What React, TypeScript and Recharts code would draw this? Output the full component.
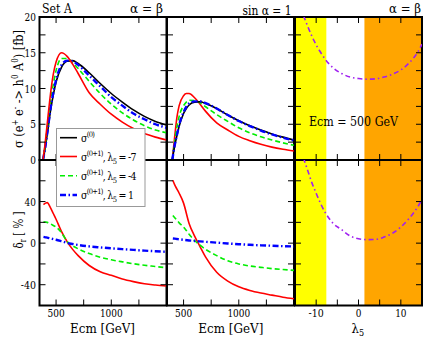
import React from "react";
import { LineChart, Line, XAxis, YAxis, ReferenceArea } from "recharts";

const FONT = '"DejaVu Serif Condensed", "DejaVu Serif", serif';
const TICK_LEN = 6;

// ---- Set A, alpha = beta : cross section [fb] vs Ecm ----
const ecmSigA = [382, 400, 425, 450, 475, 500, 550, 600, 650, 700, 800, 900, 1000, 1100, 1200, 1300, 1400, 1500];
const sigA_tree = [0, 1.5, 4.1, 6.9, 9.1, 10.9, 13.0, 13.8, 13.9, 13.5, 12.2, 10.7, 9.3, 8.1, 7.0, 6.1, 5.4, 4.9];
const sigA_m7 = [0, 2.2, 5.8, 9.3, 12.0, 13.7, 15.0, 14.5, 13.4, 12.1, 9.4, 7.8, 6.4, 5.3, 4.4, 3.7, 3.2, 2.8];
const sigA_m4 = [0, 1.9, 5.0, 8.2, 10.6, 12.5, 14.2, 14.2, 13.6, 12.8, 11.0, 9.3, 7.8, 6.6, 5.6, 4.8, 4.2, 3.8];
const sigA_p1 = [0, 1.6, 4.3, 7.2, 9.4, 11.2, 13.3, 13.9, 13.8, 13.3, 11.8, 10.3, 8.8, 7.6, 6.5, 5.7, 5.0, 4.5];

// ---- Set A, alpha = beta : delta_r [%] vs Ecm ----
const ecmDelA = [386, 405, 420, 450, 475, 500, 550, 600, 650, 700, 800, 900, 1000, 1100, 1200, 1300, 1400, 1500];
const delA_m7 = [37, 38.5, 39, 34, 28.5, 23, 11, 1.5, -6, -12, -21.5, -27.5, -31, -34.5, -37, -39, -40.3, -41.3];
const delA_m4 = [20.6, 20.3, 20, 18.5, 17, 15.5, 10, 1.5, -2.5, -5.5, -10, -13.5, -16, -18, -19.8, -21.3, -22.5, -23.7];
const delA_p1 = [6, 5.6, 5.3, 4.5, 3.9, 3.3, 1.8, 0.2, -0.8, -1.7, -3.1, -4.1, -5, -5.8, -6.5, -7.2, -7.8, -8.3];

// ---- sin alpha = 1 : cross section [fb] vs Ecm ----
const ecmSigB = [398, 420, 440, 460, 500, 525, 550, 600, 650, 700, 800, 900, 1000, 1100, 1200, 1300, 1400, 1500];
const sigB_tree = [0, 2.0, 3.4, 4.7, 6.5, 7.2, 7.7, 8.1, 8.15, 7.9, 7.2, 6.3, 5.5, 4.8, 4.2, 3.65, 3.2, 2.8];
const sigB_m7 = [0, 3.3, 6.0, 7.6, 9.0, 9.3, 9.3, 8.7, 7.8, 6.8, 5.2, 4.2, 3.3, 2.7, 2.2, 1.8, 1.5, 1.26];
const sigB_m4 = [0, 2.6, 4.6, 6.1, 7.6, 8.1, 8.35, 8.3, 8.0, 7.45, 6.35, 5.4, 4.5, 3.8, 3.25, 2.8, 2.4, 2.05];
const sigB_p1 = [0, 2.1, 3.5, 4.9, 6.7, 7.45, 7.9, 8.2, 8.2, 7.95, 7.2, 6.3, 5.45, 4.75, 4.12, 3.57, 3.12, 2.72];

// ---- sin alpha = 1 : delta_r [%] vs Ecm ----
const ecmDelB = [403, 420, 440, 460, 500, 550, 600, 650, 700, 800, 900, 1000, 1100, 1200, 1300, 1400, 1500];
const delB_m7 = [60.5, 56, 52, 48, 38.5, 19, 6.8, -3.5, -13.5, -28, -36.5, -42, -45.5, -48, -50, -52, -53.5];
const delB_m4 = [26.6, 24.5, 22, 19.5, 15.5, 8.5, 2.5, -2, -6, -12, -17, -20, -22, -23.3, -24.5, -25.4, -26.2];
const delB_p1 = [4.5, 4.3, 4.0, 3.7, 3.2, 2.6, 2.1, 1.7, 1.3, 0.5, -0.3, -1, -1.6, -2.1, -2.5, -2.9, -3.2];

// ---- Ecm = 500 GeV, scan in lambda5 ----
const lam5 = [-13, -12, -11, -10, -9, -8, -6, -4, -2, 0, 2, 4, 6, 8, 10, 12, 14, 15];
const sigLam = [20.2, 18.7, 17.3, 16.1, 15.1, 14.2, 12.9, 12.1, 11.6, 11.4, 11.3, 11.35, 11.6, 12.0, 12.6, 13.6, 15.1, 16.2];
const delLam = [82, 70, 58, 48, 38.5, 30.5, 19, 13, 7, 4.2, 3.4, 3.6, 5.8, 9.5, 15.5, 24, 35, 42];
const yellowBand = [-15, -7.6];
const orangeBand = [1.4, 15];

// axes
const ecmDomain: [number, number] = [350, 1500];
const ecmTicks = [500, 750, 1000, 1250];
const ecmLabels = [500, 1000];
const lamDomain: [number, number] = [-15, 15];
const lamTicks = [-10, -5, 0, 5, 10];
const lamLabels = [-10, 0, 10];
const sigDomain: [number, number] = [0, 20];
const sigTicks = [0, 2.5, 5, 7.5, 10, 12.5, 15, 17.5, 20];
const sigLabels = [0, 5, 10, 15, 20];
const delDomain: [number, number] = [-60, 80];
const delTicks = [-40, -20, 0, 20, 40, 60];
const delLabels = [-40, 0, 40];

const sigTabA = ecmSigA.map((e, i) => ({ e, s0: sigA_tree[i], m7: sigA_m7[i], m4: sigA_m4[i], p1: sigA_p1[i] }));
const delTabA = ecmDelA.map((e, i) => ({ e, m7: delA_m7[i], m4: delA_m4[i], p1: delA_p1[i] }));
const sigTabB = ecmSigB.map((e, i) => ({ e, s0: sigB_tree[i], m7: sigB_m7[i], m4: sigB_m4[i], p1: sigB_p1[i] }));
const delTabB = ecmDelB.map((e, i) => ({ e, m7: delB_m7[i], m4: delB_m4[i], p1: delB_p1[i] }));
const lamTab = lam5.map((l, i) => ({ l, sig: sigLam[i], del: delLam[i] }));

const styles = {
  s0: { stroke: "#000000", strokeWidth: 1.6 },
  m7: { stroke: "#ff0000", strokeWidth: 1.6 },
  m4: { stroke: "#00ee00", strokeWidth: 1.6, strokeDasharray: "5 3" },
  p1: { stroke: "#0000ff", strokeWidth: 2.4, strokeDasharray: "6 2.5 1.5 2.5" },
  lam: { stroke: "#a020f0", strokeWidth: 1.6, strokeDasharray: "5 3 1.5 3" },
};

const txt = { fontFamily: FONT };

// Times-like widths for the tick labels (the installed serif runs wider)
const labelWidth = (v: number) => {
  const s = String(v);
  let w = 0;
  for (const ch of s) w += ch === "-" ? 3.8 : 5.7;
  return w;
};

// inward ticks on both edges, labels outside
function xTick(plotH: number, labels: number[] | null) {
  return (p: any) => {
    const { x, y, payload } = p;
    return (
      <g>
        <line x1={x} x2={x} y1={y} y2={y - TICK_LEN} stroke="#000" />
        <line x1={x} x2={x} y1={y - plotH} y2={y - plotH + TICK_LEN} stroke="#000" />
        {labels && labels.includes(payload.value) && (
          <text x={x} y={y + 11} textAnchor="middle" fontSize={10.5} style={txt} fill="#000"
            textLength={labelWidth(payload.value)} lengthAdjust="spacingAndGlyphs">
            {payload.value}
          </text>
        )}
      </g>
    );
  };
}

function yTick(plotW: number, labels: number[] | null) {
  return (p: any) => {
    const { x, y, payload } = p;
    return (
      <g>
        <line x1={x} x2={x + TICK_LEN} y1={y} y2={y} stroke="#000" />
        <line x1={x + plotW} x2={x + plotW - TICK_LEN} y1={y} y2={y} stroke="#000" />
        {labels && labels.includes(payload.value) && (
          <text x={x - 3.5} y={y + 4} textAnchor="end" fontSize={11} style={txt} fill="#000"
            textLength={labelWidth(payload.value)} lengthAdjust="spacingAndGlyphs">
            {payload.value}
          </text>
        )}
      </g>
    );
  };
}

const COL_X = [39.5, 167, 294.5];
const PLOT_W = 127;
const ROW_Y = [17, 160];
const ROW_H = [143, 145.5];

function Panel(props: {
  col: number;
  row: number;
  data: any[];
  xKey: string;
  xDomain: [number, number];
  yDomain: [number, number];
  xTicks: number[];
  yTicks: number[];
  xLabels: number[] | null;
  yLabels: number[] | null;
  children: React.ReactNode;
}) {
  const { col, row, data, xKey, xDomain, yDomain, xTicks, yTicks, xLabels, yLabels } = props;
  const x = COL_X[col];
  const y = ROW_Y[row];
  const h = ROW_H[row];
  // axes are 1px thick so that they render; margins leave room for labels
  const ml = col === 0 ? 39.5 : 4;
  const mt = 10;
  const mr = 4;
  const mb = row === 1 ? 22 : 10;
  return (
    <div style={{ position: "absolute", left: x - ml, top: y - mt }}>
      <LineChart
        width={PLOT_W + ml + mr}
        height={h + mt + mb}
        data={data}
        margin={{ top: mt, right: mr, bottom: mb - 1, left: ml - 1 }}
      >
        <XAxis
          type="number"
          dataKey={xKey}
          domain={xDomain}
          ticks={xTicks}
          interval={0}
          allowDataOverflow
          axisLine={false}
          tickLine={false}
          tickSize={0}
          tickMargin={0}
          height={1}
          tick={xTick(h, xLabels)}
        />
        <YAxis
          type="number"
          domain={yDomain}
          ticks={yTicks}
          interval={0}
          allowDataOverflow
          axisLine={false}
          tickLine={false}
          tickSize={0}
          tickMargin={0}
          width={1}
          tick={yTick(PLOT_W, yLabels)}
        />
        {props.children}
        <ReferenceArea
          x1={xDomain[0]}
          x2={xDomain[1]}
          y1={yDomain[0]}
          y2={yDomain[1]}
          fill="none"
          stroke="#000"
          strokeWidth={2}
          ifOverflow="visible"
        />
      </LineChart>
    </div>
  );
}

function ecmLines(keys: string[]) {
  return keys.map((k) => (
    <Line key={k} type="monotone" dataKey={k} dot={false} isAnimationActive={false} {...(styles as any)[k]} />
  ));
}

function Bands() {
  return [
    <ReferenceArea key="y" x1={yellowBand[0]} x2={yellowBand[1]} fill="#ffff00" fillOpacity={1} stroke="none" />,
    <ReferenceArea key="o" x1={orangeBand[0]} x2={orangeBand[1]} fill="#ffa500" fillOpacity={1} stroke="none" />,
  ];
}

function Overlay() {
  const t = { style: txt, fill: "#000", lengthAdjust: "spacingAndGlyphs" };
  const lg = { style: { ...txt, letterSpacing: -0.7 }, fill: "#000" };
  const rows = [
    { y: 137.7, st: styles.s0, sup: "(0)", rest: "" },
    { y: 156.5, st: styles.m7, sup: "(0+1)", rest: "-7" },
    { y: 175.7, st: styles.m4, sup: "(0+1)", rest: "-4" },
    { y: 195, st: styles.p1, sup: "(0+1)", rest: "1" },
  ];
  return (
    <svg width={423} height={338} style={{ position: "absolute", left: 0, top: 0, pointerEvents: "none" }}>
      <text x={42} y={12.5} fontSize={13.5} textLength={30} {...t}>Set A</text>
      <text x={130} y={12.5} fontSize={13.5} textLength={33} {...t}>α = β</text>
      <text x={242.5} y={15} fontSize={13.5} textLength={49} {...t}>sin α = 1</text>
      <text x={389} y={12.5} fontSize={13.5} textLength={32} {...t}>α = β</text>
      <text x={309} y={126} fontSize={13.5} textLength={89} {...t}>Ecm = 500 GeV</text>
      <text x={70} y={332.5} fontSize={12.5} textLength={65} {...t}>Ecm [GeV]</text>
      <text x={198.3} y={332.5} fontSize={12.5} textLength={65} {...t}>Ecm [GeV]</text>
      <text x={351.5} y={332.5} fontSize={13} {...t}>λ<tspan fontSize={9} dy={3.5}>5</tspan></text>
      <text transform="translate(23,148) rotate(-90)" fontSize={13.5} textLength={118} {...t}>
        σ (e<tspan fontSize={8.5} dy={-5.5}>+</tspan>
        <tspan dy={5.5}> e</tspan>
        <tspan fontSize={8.5} dy={-5.5}>-</tspan>
        <tspan dy={5.5}> -&gt; h</tspan>
        <tspan fontSize={8.5} dy={-5.5}>0</tspan>
        <tspan dy={5.5}> A</tspan>
        <tspan fontSize={8.5} dy={-5.5}>0</tspan>
        <tspan dy={5.5}>) [fb]</tspan>
      </text>
      <text transform="translate(23,248.5) rotate(-90)" fontSize={13.5} textLength={37} {...t}>
        δ<tspan fontSize={8.5} dy={3}>r</tspan>
        <tspan dy={-3}> [ % ]</tspan>
      </text>
      <rect x={56.5} y={128.5} width={88.5} height={78} fill="#fff" stroke="#999" strokeWidth={1} />
      {rows.map((r, i) => (
        <g key={i}>
          <line x1={60} x2={77} y1={r.y} y2={r.y} {...(r.st as any)} />
          <text x={81} y={r.y + 4} fontSize={10.5} {...lg}>
            σ<tspan fontSize={7.5} dy={-5}>{r.sup}</tspan>
            {r.rest && (
              <>
                <tspan dy={5}>, λ</tspan>
                <tspan fontSize={7.5} dy={3}>5</tspan>
                <tspan dy={-3}> = {r.rest}</tspan>
              </>
            )}
          </text>
        </g>
      ))}
    </svg>
  );
}

export default function App() {
  return (
    <div style={{ position: "absolute", left: 0, top: 0, width: 423, height: 338, background: "#fff", fontFamily: FONT }}>
      <Panel col={0} row={0} data={sigTabA} xKey="e" xDomain={ecmDomain} yDomain={sigDomain}
        xTicks={ecmTicks} yTicks={sigTicks} xLabels={null} yLabels={sigLabels}>
        {ecmLines(["s0", "m4", "p1", "m7"])}
      </Panel>
      <Panel col={1} row={0} data={sigTabB} xKey="e" xDomain={ecmDomain} yDomain={sigDomain}
        xTicks={ecmTicks} yTicks={sigTicks} xLabels={null} yLabels={null}>
        {ecmLines(["m7", "m4", "s0", "p1"])}
      </Panel>
      <Panel col={2} row={0} data={lamTab} xKey="l" xDomain={lamDomain} yDomain={sigDomain}
        xTicks={lamTicks} yTicks={sigTicks} xLabels={null} yLabels={null}>
        {Bands()}
        <Line type="monotone" dataKey="sig" dot={false} isAnimationActive={false} {...styles.lam} />
      </Panel>
      <Panel col={0} row={1} data={delTabA} xKey="e" xDomain={ecmDomain} yDomain={delDomain}
        xTicks={ecmTicks} yTicks={delTicks} xLabels={ecmLabels} yLabels={delLabels}>
        {ecmLines(["m7", "m4", "p1"])}
      </Panel>
      <Panel col={1} row={1} data={delTabB} xKey="e" xDomain={ecmDomain} yDomain={delDomain}
        xTicks={ecmTicks} yTicks={delTicks} xLabels={ecmLabels} yLabels={null}>
        {ecmLines(["m7", "m4", "p1"])}
      </Panel>
      <Panel col={2} row={1} data={lamTab} xKey="l" xDomain={lamDomain} yDomain={delDomain}
        xTicks={lamTicks} yTicks={delTicks} xLabels={lamLabels} yLabels={null}>
        {Bands()}
        <Line type="monotone" dataKey="del" dot={false} isAnimationActive={false} {...styles.lam} />
      </Panel>
      <Overlay />
    </div>
  );
}
